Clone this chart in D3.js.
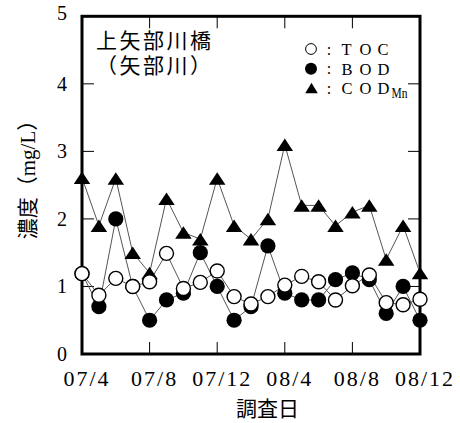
<!DOCTYPE html>
<html><head><meta charset="utf-8">
<script src="https://cdn.jsdelivr.net/npm/d3@7"></script>
<style>body{margin:0;background:#fff;position:relative}svg{display:block}</style>
</head><body>
<script>
const months = ["07/4","07/5","07/6","07/7","07/8","07/9","07/10","07/11","07/12","08/1","08/2","08/3","08/4","08/5","08/6","08/7","08/8","08/9","08/10","08/11","08/12"];
const tickLabels = ["07/4","07/8","07/12","08/4","08/8","08/12"];
const yTicks = [0,1,2,3,4,5];
const TOC = [1.19,0.87,1.12,1.0,1.07,1.49,0.97,1.06,1.23,0.85,0.74,0.85,1.02,1.15,1.07,0.8,1.01,1.17,0.76,0.73,0.81];
const BOD = [1.19,0.7,2.0,1.0,0.5,0.8,0.9,1.5,1.0,0.5,0.7,1.6,0.9,0.8,0.8,1.1,1.2,1.1,0.6,1.0,0.5];
const COD = [2.61,1.9,2.6,1.5,1.2,2.3,1.8,1.7,2.6,1.9,1.7,2.0,3.1,2.2,2.2,1.9,2.1,2.2,1.4,1.9,1.2];
const legendNames = ["TOC","BOD","COD"];
const titleLines = ["上矢部川橋","（矢部川）"];

const W=460,H=423;
const L=82,R=420,T=16.3,B=354;
const serif='"Liberation Serif", "DejaVu Serif", serif';
const cjk='"Noto Sans CJK JP", sans-serif';
const svg=d3.select("body").append("svg").attr("width",W).attr("height",H);
const x=d3.scaleLinear().domain([0,months.length-1]).range([L,R]);
const y=d3.scaleLinear().domain([0,5]).range([B,T]);
const xi=lbl=>months.indexOf(lbl);

// ticks (inside)
const tk=svg.append("g").attr("stroke","#000").attr("stroke-width",1);
yTicks.slice(1,-1).forEach(v=>{
  tk.append("line").attr("x1",L).attr("x2",L+12).attr("y1",y(v)).attr("y2",y(v));
  tk.append("line").attr("x1",R-12).attr("x2",R).attr("y1",y(v)).attr("y2",y(v));
});
tickLabels.slice(1,-1).forEach(l=>{
  tk.append("line").attr("x1",x(xi(l))).attr("x2",x(xi(l))).attr("y1",T).attr("y2",T+12);
  tk.append("line").attr("x1",x(xi(l))).attr("x2",x(xi(l))).attr("y1",B).attr("y2",B-12);
});
// frame
svg.append("rect").attr("x",L).attr("y",T).attr("width",R-L).attr("height",B-T)
  .attr("fill","none").attr("stroke","#000").attr("stroke-width",3);

// y tick labels
svg.append("g").selectAll("text").data(yTicks).join("text")
  .attr("x",67).attr("y",d=>y(d)+(d===5?4:7)).attr("text-anchor","end")
  .attr("font-family",serif).attr("font-size",20).text(d=>d);
// x tick labels
svg.append("g").selectAll("text").data(tickLabels).join("text")
  .attr("x",d=>x(xi(d))+5).attr("y",385.5).attr("text-anchor","middle")
  .attr("letter-spacing",2).attr("font-family",serif).attr("font-size",22).text(d=>d);

// axis titles
svg.append("text").attr("x",267.5).attr("y",416).attr("text-anchor","middle")
  .attr("font-family",cjk).attr("font-size",21).text("調査日");
const yt=svg.append("text").attr("transform","translate(35,174.5) rotate(-90)")
  .attr("text-anchor","middle").attr("font-family",cjk).attr("font-size",21);
yt.append("tspan").text("濃度（");
yt.append("tspan").attr("font-family",serif).text("mg/L");
yt.append("tspan").text("）");

// station title: one text block, two lines
d3.select("body").append("div")
  .style("position","absolute").style("left","96px").style("top","27.1px")
  .style("font-family",cjk).style("font-size","21px").style("line-height","24.5px")
  .style("white-space","pre").style("letter-spacing","2.5px").style("color","#000")
  .text(titleLines.join("\n"));

// lines
const line=d3.line().x((d,i)=>x(i)).y(d=>y(d));
[COD,BOD,TOC].forEach(s=>{
  svg.append("path").datum(s).attr("d",line).attr("fill","none")
    .attr("stroke","#555").attr("stroke-width",1);
});
const tri=(cx,cy,w,h)=>`M${cx},${cy-h/2}L${cx+w/2},${cy+h/2}L${cx-w/2},${cy+h/2}Z`;
// BOD markers
svg.append("g").selectAll("circle").data(BOD).join("circle")
  .attr("cx",(d,i)=>x(i)).attr("cy",d=>y(d)).attr("r",7.6).attr("fill","#000");
// COD markers
svg.append("g").selectAll("path").data(COD).join("path")
  .attr("d",(d,i)=>tri(x(i),y(d),16.5,12.5)).attr("fill","#000");
// TOC markers
svg.append("g").selectAll("circle").data(TOC).join("circle")
  .attr("cx",(d,i)=>x(i)).attr("cy",d=>y(d)).attr("r",7).attr("fill","#fff")
  .attr("stroke","#000").attr("stroke-width",1.4);

// legend
const lg=svg.append("g");
const rowsY=[49,68.8,88];
lg.append("circle").attr("cx",311).attr("cy",rowsY[0]).attr("r",5.4).attr("fill","#fff").attr("stroke","#000").attr("stroke-width",1);
lg.append("circle").attr("cx",311).attr("cy",rowsY[1]).attr("r",6).attr("fill","#000");
lg.append("path").attr("d",tri(311.5,rowsY[2],12.5,10.5)).attr("fill","#000");
legendNames.forEach((name,k)=>{
  const cy=rowsY[k];
  lg.append("text").attr("x",329).attr("y",cy+5.5).attr("text-anchor","middle")
    .attr("font-family",serif).attr("font-size",16).text(":");
  const t=lg.append("text").attr("y",cy+5.8).attr("font-family",serif).attr("font-size",16.5);
  name.split("").forEach((ch,j)=>t.append("tspan").attr("x",341.5+j*18).text(ch));
});
lg.append("text").attr("x",0).attr("y",rowsY[2]+10).attr("font-family",serif)
  .attr("font-size",14).attr("transform","translate(391.5,0) scale(0.82,1)").text("Mn");
</script>
</body></html>
